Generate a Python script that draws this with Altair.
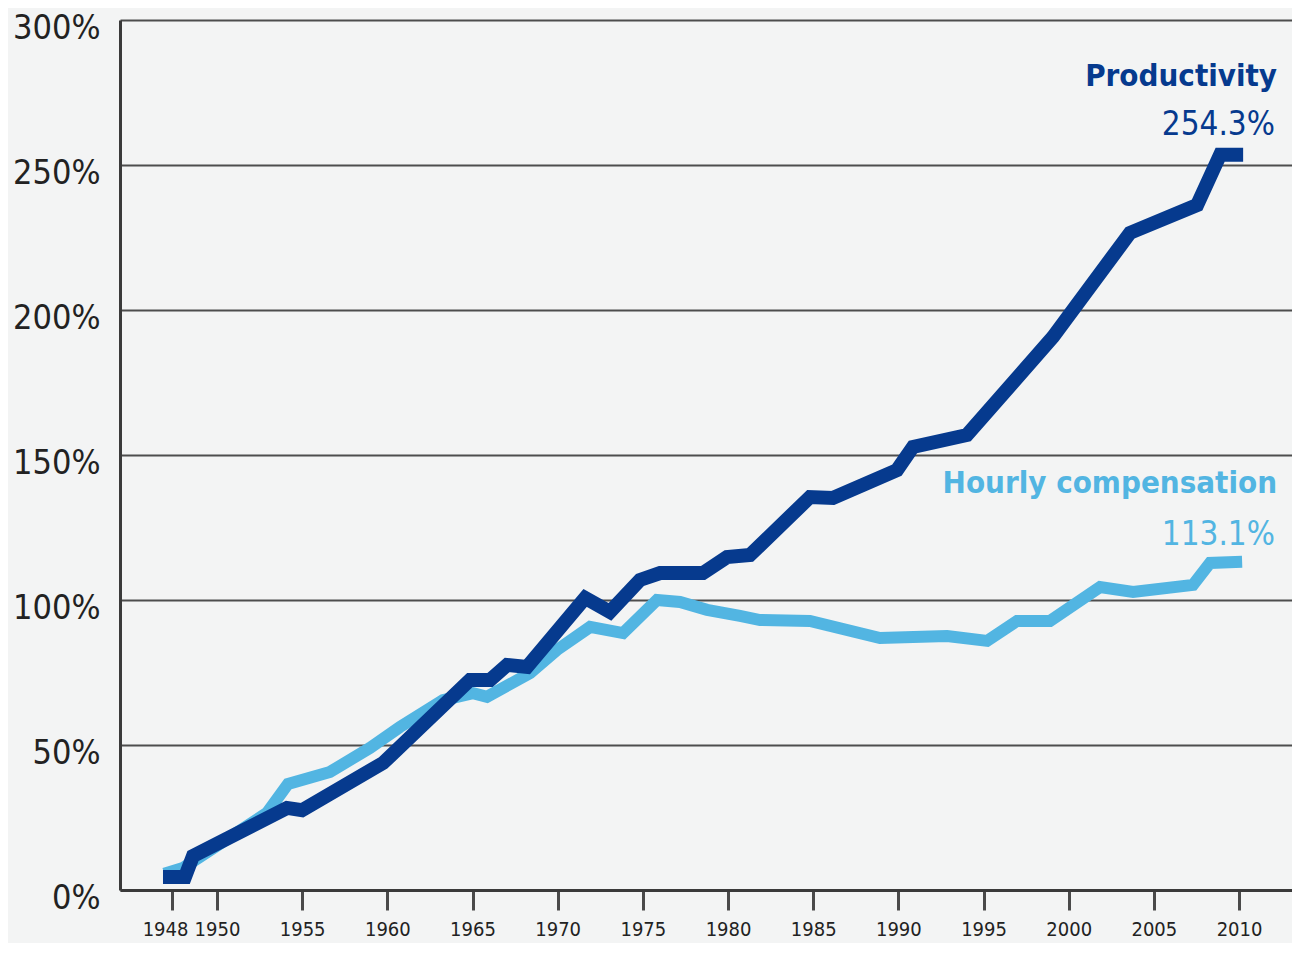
import altair as alt
import pandas as pd

# ---- data (x in years, y in % change since 1948) ----
prod_years = [1947.24, 1948.12, 1948.59, 1954.11, 1954.99, 1959.75, 1964.85, 1966.03,
              1967.03, 1968.20, 1971.61, 1973.07, 1974.83, 1976.01, 1978.53, 1979.94,
              1981.29, 1984.81, 1986.16, 1989.92, 1990.86, 1994.03, 1999.08, 2003.60,
              2007.54, 2008.89, 2009.83]
prod_values = [4.5, 4.5, 11.7, 28.3, 27.5, 43.8, 72.4, 72.4,
               77.6, 76.9, 100.7, 95.9, 106.9, 109.3, 109.3, 114.8,
               115.5, 135.5, 135.2, 144.8, 152.8, 156.9, 190.7, 226.6,
               236.2, 253.5, 253.5]

comp_years = [1947.24, 1948.00, 1952.94, 1954.17, 1956.63, 1958.98, 1960.74, 1963.27,
              1965.03, 1965.85, 1968.38, 1969.96, 1971.90, 1973.84, 1975.83, 1977.18,
              1978.77, 1980.70, 1981.88, 1984.81, 1988.92, 1992.86, 1995.21, 1996.97,
              1998.90, 2001.84, 2003.78, 2007.30, 2008.30, 2009.83]
comp_values = [6.2, 7.6, 26.6, 36.6, 40.7, 49.0, 56.2, 65.5,
               67.9, 66.6, 74.8, 82.8, 90.7, 88.6, 100.0, 99.3,
               96.6, 94.5, 93.1, 92.8, 86.9, 87.6, 85.9, 92.8,
               92.8, 104.5, 102.8, 105.2, 112.8, 113.1]

series_names = ["Productivity", "Hourly compensation"]
end_labels = ["254.3%", "113.1%"]

tick_positions = [1947.36, 1950, 1955, 1960, 1965, 1970, 1975, 1980,
                  1985, 1990, 1995, 2000, 2005, 2010]
y_ticks = [0, 50, 100, 150, 200, 250, 300]

DARK = "#063a8e"
LIGHT = "#52b5e2"
FONT = "DejaVu Sans Condensed, DejaVu Sans, sans-serif"

prod_df = pd.DataFrame({"year": prod_years, "value": prod_values})
comp_df = pd.DataFrame({"year": comp_years, "value": comp_values})

name_df = pd.DataFrame({"label": series_names, "year": [2012.23, 2012.23],
                        "value": [277.2, 136.9], "series": series_names})
val_df = pd.DataFrame({"label": end_labels, "year": [2012.11, 2012.11],
                       "value": [260.3, 119.0], "series": series_names})

x_scale = alt.Scale(domain=[1944.305, 2013.11], nice=False, zero=False)
y_scale = alt.Scale(domain=[0, 300], nice=False)

x_axis = alt.Axis(
    values=tick_positions,
    labelExpr="datum.value < 1949 ? '1948' : format(datum.value, 'd')",
    grid=False, domain=True, domainColor="#3a3a3a", domainWidth=3,
    ticks=True, tickColor="#4a4a4a", tickWidth=3, tickSize=20,
    labelFont=FONT, labelFontSize=20, labelColor="#222222", labelPadding=9,
    labelOffset=alt.condition("datum.value < 1949", alt.value(-7), alt.value(0)),
    labelOverlap=False, labelFlush=False, title=None,
)
y_axis = alt.Axis(
    values=y_ticks, labelExpr="datum.value + '%'",
    grid=True, gridColor="#4d4d4d", gridWidth=2,
    domain=True, domainColor="#3a3a3a", domainWidth=3,
    ticks=False, tickSize=0,
    labelFont=FONT, labelFontSize=34, labelColor="#222222", labelPadding=20,
    labelOffset=8, labelBaseline="middle",
    minExtent=112, maxExtent=112, title=None,
)

comp_line = alt.Chart(comp_df).mark_line(
    color=LIGHT, strokeWidth=12, strokeCap="square", strokeJoin="miter"
).encode(
    x=alt.X("year:Q", scale=x_scale, axis=x_axis),
    y=alt.Y("value:Q", scale=y_scale, axis=y_axis),
)
prod_line = alt.Chart(prod_df).mark_line(
    color=DARK, strokeWidth=14, strokeCap="square", strokeJoin="miter"
).encode(
    x=alt.X("year:Q", scale=x_scale),
    y=alt.Y("value:Q", scale=y_scale),
)

color_scale = alt.Scale(domain=series_names, range=[DARK, LIGHT])

names = alt.Chart(name_df).mark_text(
    font=FONT, fontSize=31, fontWeight="bold", align="right", baseline="alphabetic"
).encode(
    x=alt.X("year:Q", scale=x_scale),
    y=alt.Y("value:Q", scale=y_scale),
    text="label:N",
    color=alt.Color("series:N", scale=color_scale, legend=None),
)
vals = alt.Chart(val_df).mark_text(
    font=FONT, fontSize=33, align="right", baseline="alphabetic"
).encode(
    x=alt.X("year:Q", scale=x_scale),
    y=alt.Y("value:Q", scale=y_scale),
    text="label:N",
    color=alt.Color("series:N", scale=color_scale, legend=None),
)

chart = alt.layer(comp_line, prod_line, names, vals).properties(
    width=1172, height=870,
    autosize=alt.AutoSizeParams(type="none"),
    padding={"left": 112, "top": 12, "right": 0, "bottom": 53},
    background="#f3f4f4",
).configure_view(stroke=None)

chart.save("out.html", embed_options={"renderer": "svg", "actions": False})
